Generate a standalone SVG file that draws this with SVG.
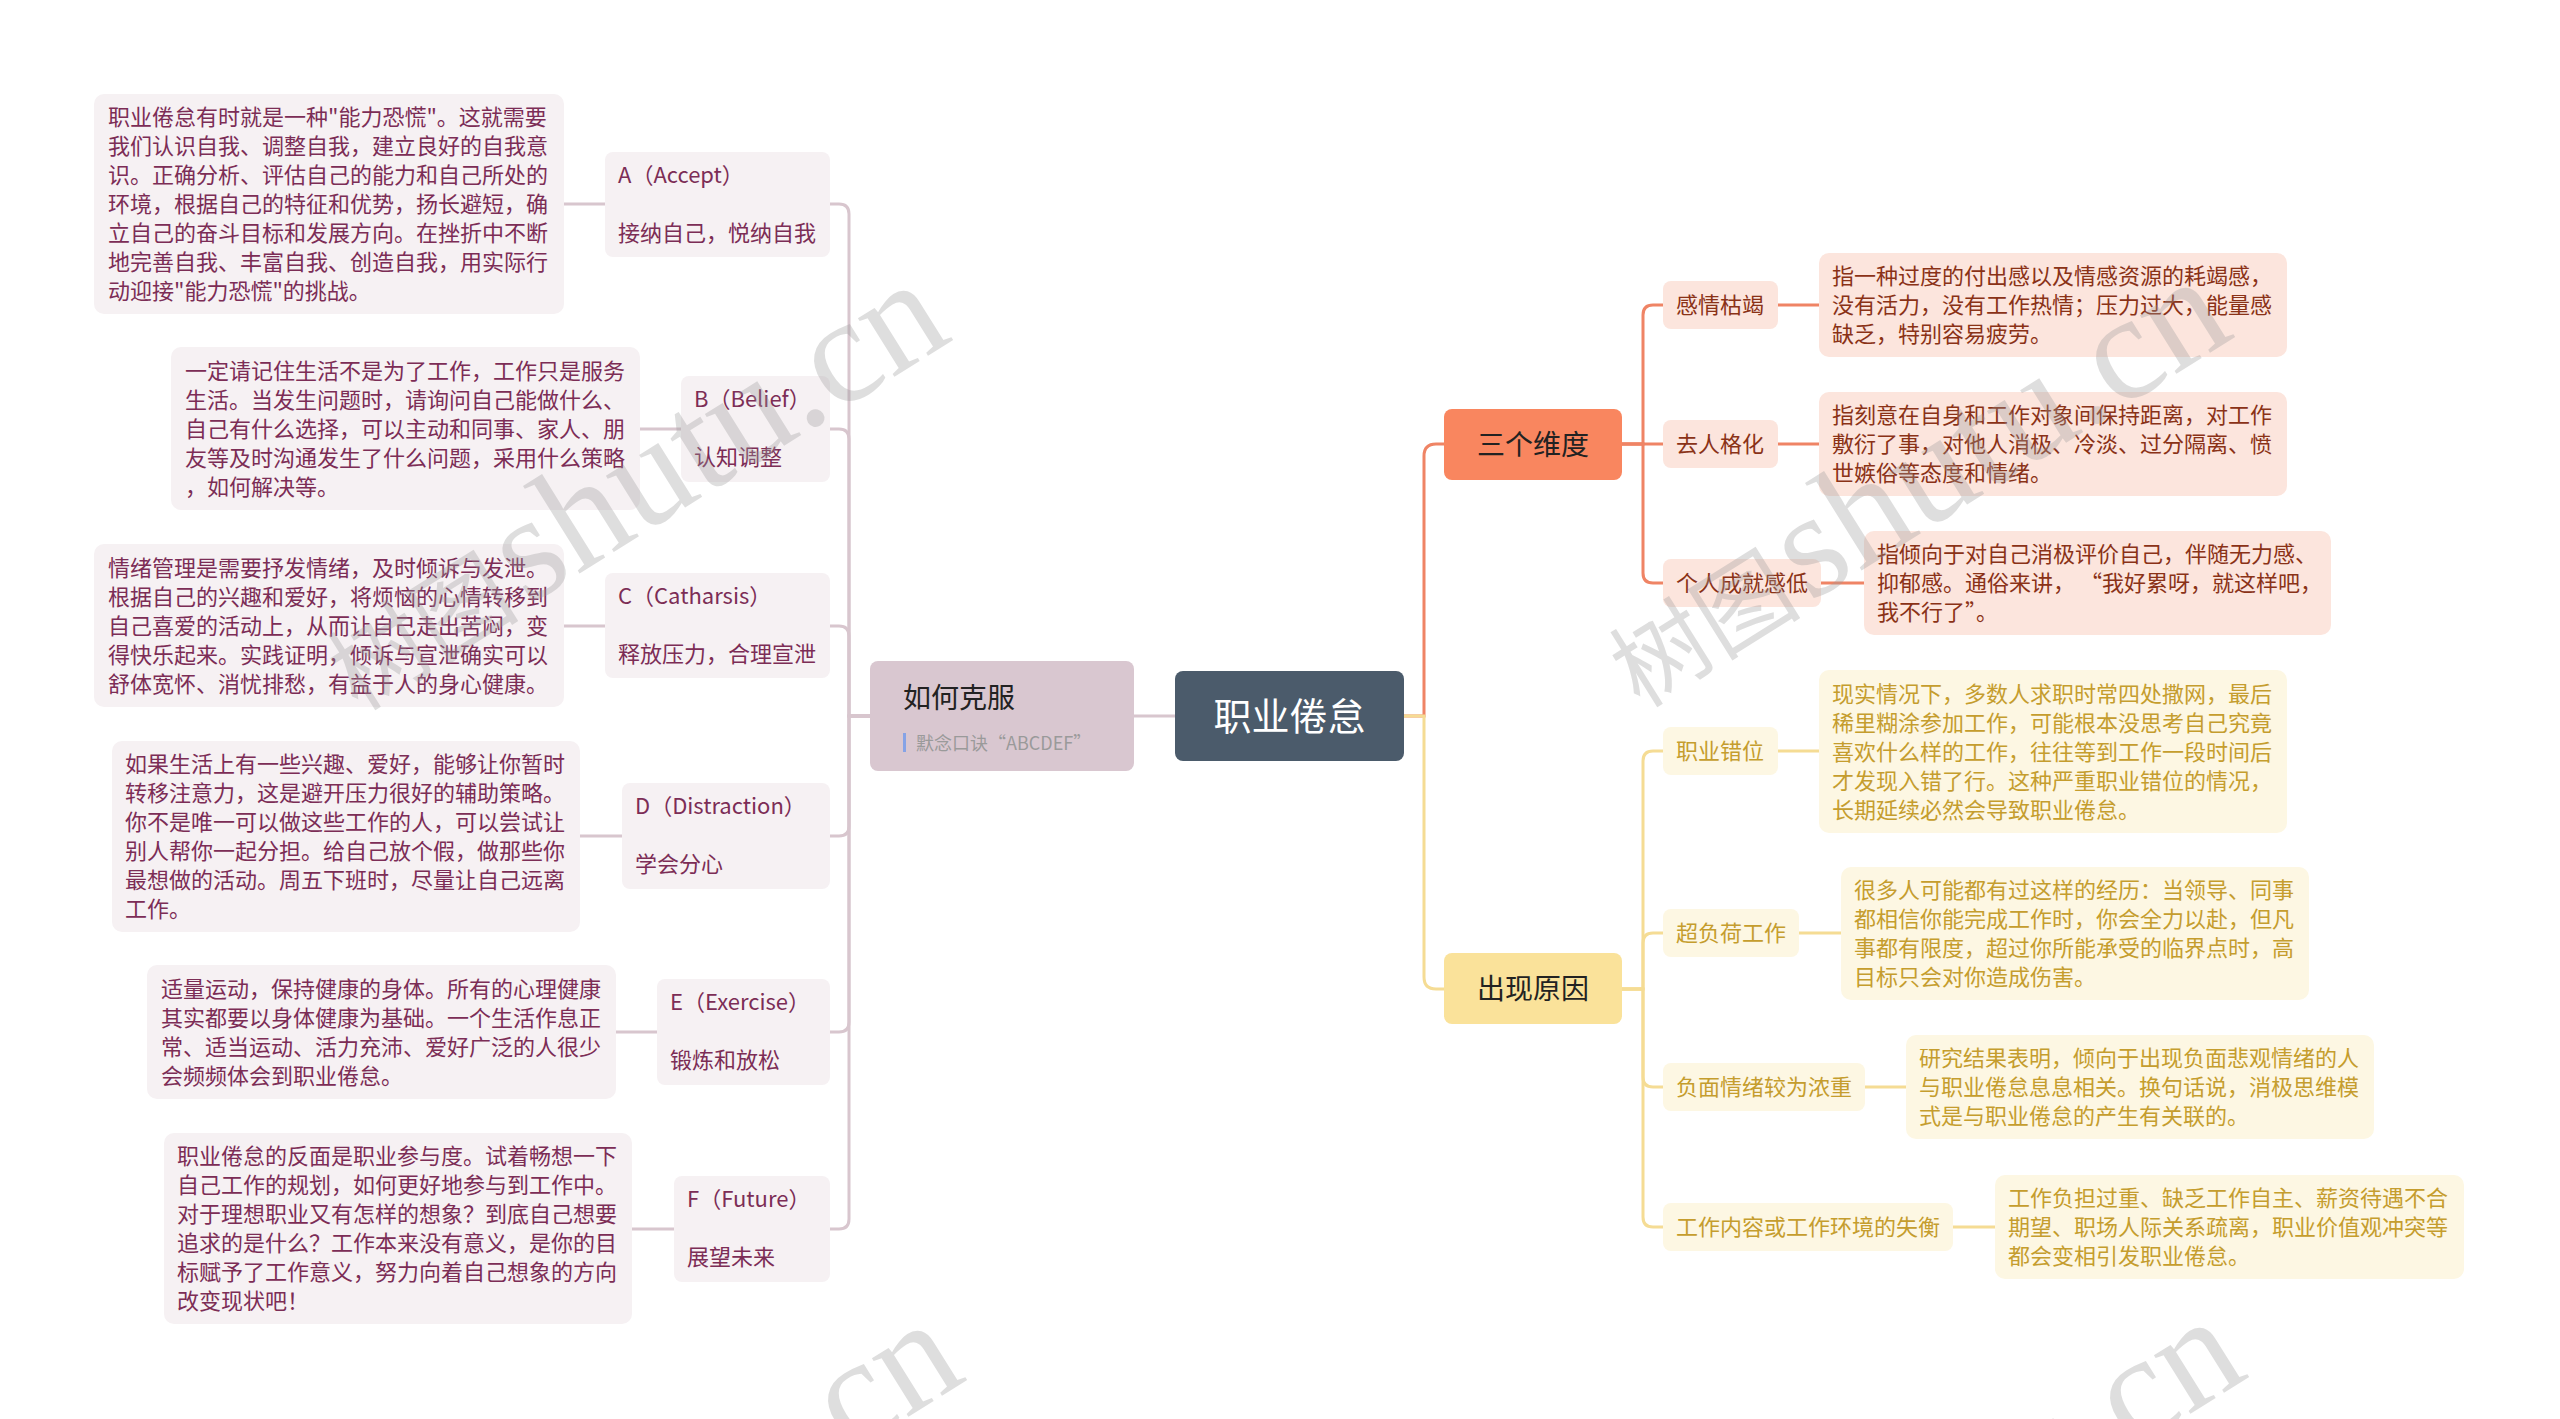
<svg xmlns="http://www.w3.org/2000/svg" width="2560" height="1419" viewBox="0 0 2560 1419">
<style>
text{font-family:"Noto Sans CJK SC","Noto Sans",sans-serif;}
.ln{fill:none;stroke-width:3;stroke-linecap:round;}
.lm{stroke:#d8c6ce;}
.lo{stroke:#ef8465;}
.ly{stroke:#f5dc94;}
.bm{fill:#f6f1f3;}
.bo{fill:#fce5dd;}
.by{fill:#fdf7e3;}
.tm{fill:#7c2d56;font-size:22px;}
.to{fill:#8a3217;font-size:22px;}
.ty{fill:#c59d2e;font-size:22px;}
.wm{fill:#9a9a9a;opacity:0.32;font-family:"Liberation Serif","Noto Sans CJK SC",serif;}
</style>
<rect width="2560" height="1419" fill="#ffffff"/>

<g id="connectors">
  <path class="ln lm" d="M1175,716 H1134"/>
  <path class="ln lm" d="M870,716 H849 V214 Q849,204 839,204 H830"/>
  <path class="ln lm" d="M870,716 H849 V439 Q849,429 839,429 H830"/>
  <path class="ln lm" d="M870,716 H849 V636 Q849,626 839,626 H830"/>
  <path class="ln lm" d="M870,716 H849 V826 Q849,836 839,836 H830"/>
  <path class="ln lm" d="M870,716 H849 V1022 Q849,1032 839,1032 H830"/>
  <path class="ln lm" d="M870,716 H849 V1219 Q849,1229 839,1229 H830"/>
  <path class="ln lm" d="M564,204 H605"/>
  <path class="ln lm" d="M640,429 H681"/>
  <path class="ln lm" d="M564,626 H605"/>
  <path class="ln lm" d="M580,836 H622"/>
  <path class="ln lm" d="M616,1032 H657"/>
  <path class="ln lm" d="M632,1229 H674"/>

  <path class="ln lo" d="M1404,716 H1424 V456 Q1424,444 1436,444 H1444"/>
  <path class="ln ly" d="M1404,716 H1424 V977 Q1424,989 1436,989 H1444"/>

  <path class="ln lo" d="M1622,444 H1643 V315 Q1643,305 1653,305 H1663"/>
  <path class="ln lo" d="M1622,444 H1663"/>
  <path class="ln lo" d="M1622,444 H1643 V573 Q1643,583 1653,583 H1663"/>
  <path class="ln lo" d="M1778,305 H1819"/>
  <path class="ln lo" d="M1778,444 H1819"/>
  <path class="ln lo" d="M1821,583 H1864"/>

  <path class="ln ly" d="M1622,989 H1643 V761 Q1643,751 1653,751 H1663"/>
  <path class="ln ly" d="M1622,989 H1643 V943 Q1643,933 1653,933 H1663"/>
  <path class="ln ly" d="M1622,989 H1643 V1077 Q1643,1087 1653,1087 H1663"/>
  <path class="ln ly" d="M1622,989 H1643 V1217 Q1643,1227 1653,1227 H1663"/>
  <path class="ln ly" d="M1778,751 H1819"/>
  <path class="ln ly" d="M1799,933 H1841"/>
  <path class="ln ly" d="M1865,1087 H1906"/>
  <path class="ln ly" d="M1953,1227 H1995"/>
</g>

<g id="root">
  <rect x="1175" y="671" width="229" height="90" rx="8" fill="#4b5b6b"/>
  <text x="1289.5" y="730" font-size="38" fill="#ffffff" text-anchor="middle">职业倦怠</text>
</g>

<g id="how">
  <rect x="870" y="661" width="264" height="110" rx="8" fill="#d9c7d0"/>
  <text x="903" y="708" font-size="28" fill="#222222">如何克服</text>
  <rect x="903" y="733" width="3" height="19" fill="#86a3e6"/>
  <text x="916" y="750" font-size="18" fill="#9a9a9a">默念口诀“ABCDEF”</text>
</g>

<g id="node-a">
  <rect class="bm" x="605" y="152" width="225" height="105" rx="8"/>
  <text class="tm" x="618" y="183">A（Accept）</text>
  <text class="tm" x="618" y="241">接纳自己，悦纳自我</text>
</g>
<g id="desc-a">
  <rect class="bm" x="94" y="94" width="470" height="220" rx="10"/>
  <text class="tm"><tspan x="108" y="125">职业倦怠有时就是一种"能力恐慌"。这就需要</tspan><tspan x="108" y="154">我们认识自我、调整自我，建立良好的自我意</tspan><tspan x="108" y="183">识。正确分析、评估自己的能力和自己所处的</tspan><tspan x="108" y="212">环境，根据自己的特征和优势，扬长避短，确</tspan><tspan x="108" y="241">立自己的奋斗目标和发展方向。在挫折中不断</tspan><tspan x="108" y="270">地完善自我、丰富自我、创造自我，用实际行</tspan><tspan x="108" y="299">动迎接"能力恐慌"的挑战。</tspan></text>
</g>

<g id="node-b">
  <rect class="bm" x="681" y="376" width="149" height="106" rx="8"/>
  <text class="tm" x="694" y="407">B（Belief）</text>
  <text class="tm" x="694" y="465">认知调整</text>
</g>
<g id="desc-b">
  <rect class="bm" x="171" y="347" width="469" height="163" rx="10"/>
  <text class="tm"><tspan x="185" y="378.5">一定请记住生活不是为了工作，工作只是服务</tspan><tspan x="185" y="407.5">生活。当发生问题时，请询问自己能做什么、</tspan><tspan x="185" y="436.5">自己有什么选择，可以主动和同事、家人、朋</tspan><tspan x="185" y="465.5">友等及时沟通发生了什么问题，采用什么策略</tspan><tspan x="185" y="494.5">，如何解决等。</tspan></text>
</g>

<g id="node-c">
  <rect class="bm" x="605" y="573" width="225" height="105" rx="8"/>
  <text class="tm" x="618" y="604">C（Catharsis）</text>
  <text class="tm" x="618" y="662">释放压力，合理宣泄</text>
</g>
<g id="desc-c">
  <rect class="bm" x="94" y="544" width="470" height="163" rx="10"/>
  <text class="tm"><tspan x="108" y="575.5">情绪管理是需要抒发情绪，及时倾诉与发泄。</tspan><tspan x="108" y="604.5">根据自己的兴趣和爱好，将烦恼的心情转移到</tspan><tspan x="108" y="633.5">自己喜爱的活动上，从而让自己走出苦闷，变</tspan><tspan x="108" y="662.5">得快乐起来。实践证明，倾诉与宣泄确实可以</tspan><tspan x="108" y="691.5">舒体宽怀、消忧排愁，有益于人的身心健康。</tspan></text>
</g>

<g id="node-d">
  <rect class="bm" x="622" y="783" width="208" height="106" rx="8"/>
  <text class="tm" x="635" y="814">D（Distraction）</text>
  <text class="tm" x="635" y="872">学会分心</text>
</g>
<g id="desc-d">
  <rect class="bm" x="112" y="741" width="468" height="191" rx="10"/>
  <text class="tm"><tspan x="125" y="772">如果生活上有一些兴趣、爱好，能够让你暂时</tspan><tspan x="125" y="801">转移注意力，这是避开压力很好的辅助策略。</tspan><tspan x="125" y="830">你不是唯一可以做这些工作的人，可以尝试让</tspan><tspan x="125" y="859">别人帮你一起分担。给自己放个假，做那些你</tspan><tspan x="125" y="888">最想做的活动。周五下班时，尽量让自己远离</tspan><tspan x="125" y="917">工作。</tspan></text>
</g>

<g id="node-e">
  <rect class="bm" x="657" y="979" width="173" height="106" rx="8"/>
  <text class="tm" x="670" y="1010">E（Exercise）</text>
  <text class="tm" x="670" y="1068">锻炼和放松</text>
</g>
<g id="desc-e">
  <rect class="bm" x="147" y="965" width="469" height="134" rx="10"/>
  <text class="tm"><tspan x="161" y="996.5">适量运动，保持健康的身体。所有的心理健康</tspan><tspan x="161" y="1025.5">其实都要以身体健康为基础。一个生活作息正</tspan><tspan x="161" y="1054.5">常、适当运动、活力充沛、爱好广泛的人很少</tspan><tspan x="161" y="1083.5">会频频体会到职业倦怠。</tspan></text>
</g>

<g id="node-f">
  <rect class="bm" x="674" y="1176" width="156" height="106" rx="8"/>
  <text class="tm" x="687" y="1207">F（Future）</text>
  <text class="tm" x="687" y="1265">展望未来</text>
</g>
<g id="desc-f">
  <rect class="bm" x="164" y="1133" width="468" height="191" rx="10"/>
  <text class="tm"><tspan x="177" y="1164">职业倦怠的反面是职业参与度。试着畅想一下</tspan><tspan x="177" y="1193">自己工作的规划，如何更好地参与到工作中。</tspan><tspan x="177" y="1222">对于理想职业又有怎样的想象？到底自己想要</tspan><tspan x="177" y="1251">追求的是什么？工作本来没有意义，是你的目</tspan><tspan x="177" y="1280">标赋予了工作意义，努力向着自己想象的方向</tspan><tspan x="177" y="1309">改变现状吧！</tspan></text>
</g>

<g id="dims">
  <rect x="1444" y="409" width="178" height="71" rx="8" fill="#f9865f"/>
  <text x="1533" y="455" font-size="28" fill="#222222" text-anchor="middle">三个维度</text>
</g>
<g id="causes">
  <rect x="1444" y="953" width="178" height="71" rx="8" fill="#fae29a"/>
  <text x="1533" y="999" font-size="28" fill="#222222" text-anchor="middle">出现原因</text>
</g>

<g id="dim-1">
  <rect class="bo" x="1663" y="281" width="115" height="48" rx="8"/>
  <text class="to" x="1676" y="313">感情枯竭</text>
</g>
<g id="dim-1-desc">
  <rect class="bo" x="1819" y="253" width="468" height="104" rx="10"/>
  <text class="to"><tspan x="1832" y="284">指一种过度的付出感以及情感资源的耗竭感，</tspan><tspan x="1832" y="313">没有活力，没有工作热情；压力过大，能量感</tspan><tspan x="1832" y="342">缺乏，特别容易疲劳。</tspan></text>
</g>
<g id="dim-2">
  <rect class="bo" x="1663" y="420" width="115" height="48" rx="8"/>
  <text class="to" x="1676" y="452">去人格化</text>
</g>
<g id="dim-2-desc">
  <rect class="bo" x="1819" y="392" width="468" height="104" rx="10"/>
  <text class="to"><tspan x="1832" y="423">指刻意在自身和工作对象间保持距离，对工作</tspan><tspan x="1832" y="452">敷衍了事，对他人消极、冷淡、过分隔离、愤</tspan><tspan x="1832" y="481">世嫉俗等态度和情绪。</tspan></text>
</g>
<g id="dim-3">
  <rect class="bo" x="1663" y="559" width="158" height="48" rx="8"/>
  <text class="to" x="1676" y="591">个人成就感低</text>
</g>
<g id="dim-3-desc">
  <rect class="bo" x="1864" y="531" width="467" height="104" rx="10"/>
  <text class="to"><tspan x="1877" y="562">指倾向于对自己消极评价自己，伴随无力感、</tspan><tspan x="1877" y="591">抑郁感。通俗来讲， “我好累呀，就这样吧，</tspan><tspan x="1877" y="620">我不行了”。</tspan></text>
</g>

<g id="cause-1">
  <rect class="by" x="1663" y="727" width="115" height="48" rx="8"/>
  <text class="ty" x="1676" y="759">职业错位</text>
</g>
<g id="cause-1-desc">
  <rect class="by" x="1819" y="670" width="468" height="163" rx="10"/>
  <text class="ty"><tspan x="1832" y="701.5">现实情况下，多数人求职时常四处撒网，最后</tspan><tspan x="1832" y="730.5">稀里糊涂参加工作，可能根本没思考自己究竟</tspan><tspan x="1832" y="759.5">喜欢什么样的工作，往往等到工作一段时间后</tspan><tspan x="1832" y="788.5">才发现入错了行。这种严重职业错位的情况，</tspan><tspan x="1832" y="817.5">长期延续必然会导致职业倦怠。</tspan></text>
</g>
<g id="cause-2">
  <rect class="by" x="1663" y="909" width="136" height="48" rx="8"/>
  <text class="ty" x="1676" y="941">超负荷工作</text>
</g>
<g id="cause-2-desc">
  <rect class="by" x="1841" y="867" width="468" height="133" rx="10"/>
  <text class="ty"><tspan x="1854" y="898">很多人可能都有过这样的经历：当领导、同事</tspan><tspan x="1854" y="927">都相信你能完成工作时，你会全力以赴，但凡</tspan><tspan x="1854" y="956">事都有限度，超过你所能承受的临界点时，高</tspan><tspan x="1854" y="985">目标只会对你造成伤害。</tspan></text>
</g>
<g id="cause-3">
  <rect class="by" x="1663" y="1063" width="202" height="48" rx="8"/>
  <text class="ty" x="1676" y="1095">负面情绪较为浓重</text>
</g>
<g id="cause-3-desc">
  <rect class="by" x="1906" y="1035" width="468" height="104" rx="10"/>
  <text class="ty"><tspan x="1919" y="1066">研究结果表明，倾向于出现负面悲观情绪的人</tspan><tspan x="1919" y="1095">与职业倦怠息息相关。换句话说，消极思维模</tspan><tspan x="1919" y="1124">式是与职业倦怠的产生有关联的。</tspan></text>
</g>
<g id="cause-4">
  <rect class="by" x="1663" y="1203" width="290" height="48" rx="8"/>
  <text class="ty" x="1676" y="1235">工作内容或工作环境的失衡</text>
</g>
<g id="cause-4-desc">
  <rect class="by" x="1995" y="1175" width="469" height="104" rx="10"/>
  <text class="ty"><tspan x="2008" y="1206">工作负担过重、缺乏工作自主、薪资待遇不合</tspan><tspan x="2008" y="1235">期望、职场人际关系疏离，职业价值观冲突等</tspan><tspan x="2008" y="1264">都会变相引发职业倦怠。</tspan></text>
</g>

<g id="watermarks">
  <text class="wm" transform="translate(358,712) rotate(-32)"><tspan font-size="96">树图</tspan><tspan font-size="150" dx="8">shutu.cn</tspan></text>
  <text class="wm" transform="translate(1640,709) rotate(-32)"><tspan font-size="96">树图</tspan><tspan font-size="150" dx="8">shutu.cn</tspan></text>
  <text class="wm" transform="translate(372,1752) rotate(-32)"><tspan font-size="96">树图</tspan><tspan font-size="150" dx="8">shutu.cn</tspan></text>
  <text class="wm" transform="translate(1654,1749) rotate(-32)"><tspan font-size="96">树图</tspan><tspan font-size="150" dx="8">shutu.cn</tspan></text>
</g>
</svg>
